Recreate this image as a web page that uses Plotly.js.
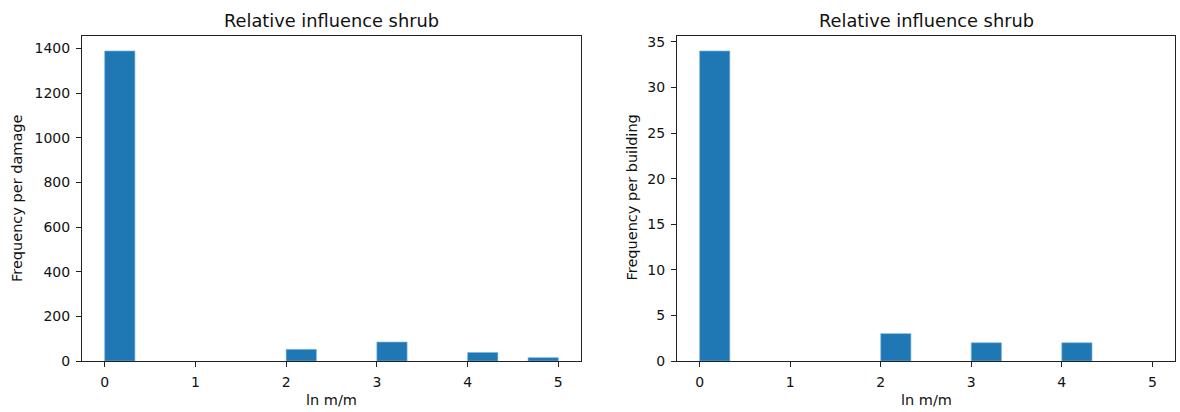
<!DOCTYPE html>
<html>
<head>
<meta charset="utf-8">
<script src="https://cdn.plot.ly/plotly-3.0.1.min.js"></script>
<style>html,body{margin:0;padding:0;background:#fff;}#chart{width:1180px;height:412px;}</style>
</head>
<body>
<div id="chart"></div>
<script>
// Histogram bin left edges (15 bins of width 1/3 from 0 to 5)
var binLeft = [0, 1/3, 2/3, 1, 4/3, 5/3, 2, 7/3, 8/3, 3, 10/3, 11/3, 4, 13/3, 14/3];
var binWidth = 1/3;
// Counts per bin
var damageCounts   = [1389, 0, 0, 0, 0, 0, 52, 0, 0, 85, 0, 0, 38, 0, 15];
var buildingCounts = [34, 0, 0, 0, 0, 0, 3, 0, 0, 2, 0, 0, 2, 0, 0];
var xTicks = [0, 1, 2, 3, 4, 5];
var yTicksDamage = [0, 200, 400, 600, 800, 1000, 1200, 1400];
var yTicksBuilding = [0, 5, 10, 15, 20, 25, 30, 35];
var titleText = "Relative influence shrub";
var xLabel = "ln m/m";
var yLabelDamage = "Frequency per damage";
var yLabelBuilding = "Frequency per building";

var W = 1180, H = 412;
var FONT = "DejaVu Sans, sans-serif";
var BAR = "#1f77b4";

function bars(y, xa, ya) {
  return {
    type: "bar", x: binLeft, y: y, width: binWidth, offset: 0,
    xaxis: xa, yaxis: ya,
    marker: {color: BAR, line: {color: "rgba(120,180,225,0.9)", width: y.map(function (v) { return v > 0 ? 0.7 : 0; })}},
    hoverinfo: "x+y", showlegend: false
  };
}

var yDom = [(H - 361) / H, (H - 35.5) / H];
var axisCommon = {
  showline: true, mirror: true, linecolor: "#222", linewidth: 1,
  ticks: "outside", ticklen: 5, tickwidth: 1, tickcolor: "#222",
  showgrid: false, zeroline: false, fixedrange: true,
  tickfont: {family: FONT, size: 14, color: "#111"}
};
function ax(extra) { return Object.assign({}, axisCommon, extra); }

var labelFont = {family: FONT, size: 14.5, color: "#111"};
var titleFont = {family: FONT, size: 17.8, color: "#111"};

var layout = {
  width: W, height: H,
  margin: {l: 0, r: 0, t: 0, b: 0},
  paper_bgcolor: "#fff", plot_bgcolor: "#fff",
  bargap: 0,
  xaxis: ax({domain: [82 / W, 581 / W], range: [-0.25, 5.25], tickvals: xTicks, anchor: "y", ticklabelstandoff: 3}),
  yaxis: ax({domain: yDom, range: [0, 1389 * 1.05], tickvals: yTicksDamage, anchor: "x", ticklabelstandoff: 3}),
  xaxis2: ax({domain: [677 / W, 1175 / W], range: [-0.25, 5.25], tickvals: xTicks, anchor: "y2", ticklabelstandoff: 3}),
  yaxis2: ax({domain: yDom, range: [0, 34 * 1.05], tickvals: yTicksBuilding, anchor: "x2", ticklabelstandoff: 3}),
  annotations: [
    {text: titleText, xref: "paper", yref: "paper", x: 331.5 / W, y: (H - 21) / H, xanchor: "center", yanchor: "middle", showarrow: false, font: titleFont},
    {text: titleText, xref: "paper", yref: "paper", x: 926 / W, y: (H - 21) / H, xanchor: "center", yanchor: "middle", showarrow: false, font: titleFont},
    {text: xLabel, xref: "paper", yref: "paper", x: 331.5 / W, y: (H - 400) / H, xanchor: "center", yanchor: "middle", showarrow: false, font: labelFont},
    {text: xLabel, xref: "paper", yref: "paper", x: 926 / W, y: (H - 400) / H, xanchor: "center", yanchor: "middle", showarrow: false, font: labelFont},
    {text: yLabelDamage, xref: "paper", yref: "paper", x: 17 / W, y: (H - 198) / H, xanchor: "center", yanchor: "middle", textangle: -90, showarrow: false, font: labelFont},
    {text: yLabelBuilding, xref: "paper", yref: "paper", x: 631.5 / W, y: (H - 198) / H, xanchor: "center", yanchor: "middle", textangle: -90, showarrow: false, font: labelFont}
  ]
};

Plotly.newPlot("chart", [bars(damageCounts, "x", "y"), bars(buildingCounts, "x2", "y2")], layout, {displayModeBar: false, staticPlot: true});
</script>
</body>
</html>
